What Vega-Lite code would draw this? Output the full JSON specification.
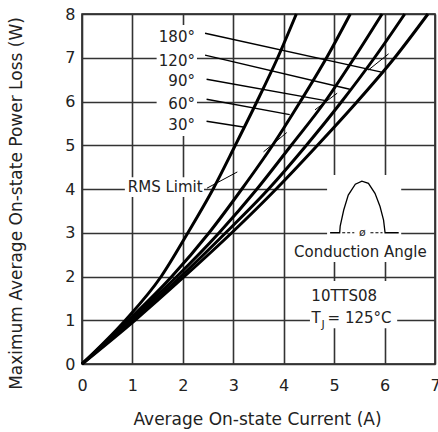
{
  "$schema": "https://vega.github.io/schema/vega-lite/v6.json",
  "width": 353,
  "height": 350,
  "autosize": {"type": "none"},
  "padding": {"left": 82, "top": 14, "right": 3, "bottom": 68},
  "background": "white",
  "config": {
    "font": "DejaVu Sans",
    "view": {"stroke": "#111", "strokeWidth": 1.5},
    "axis": {
      "grid": true, "gridColor": "#333", "gridWidth": 1.6, "gridOpacity": 1,
      "ticks": false, "domain": false,
      "labelFont": "DejaVu Sans", "labelFontSize": 16, "labelColor": "#222",
      "labelFlush": false, "labelOverlap": false,
      "titleFont": "DejaVu Sans", "titleFontSize": 17, "titleFontWeight": "normal", "titleColor": "#222"
    }
  },
  "datasets": {
    "curves": [
      {"angle": "30", "x": 0, "y": 0}, {"angle": "30", "x": 0.86, "y": 1}, {"angle": "30", "x": 1.57, "y": 2}, {"angle": "30", "x": 2.1, "y": 3}, {"angle": "30", "x": 2.6, "y": 4}, {"angle": "30", "x": 3.04, "y": 5}, {"angle": "30", "x": 3.47, "y": 6}, {"angle": "30", "x": 3.88, "y": 7}, {"angle": "30", "x": 4.25, "y": 8},
      {"angle": "60", "x": 0, "y": 0}, {"angle": "60", "x": 0.92, "y": 1}, {"angle": "60", "x": 1.78, "y": 2}, {"angle": "60", "x": 2.52, "y": 3}, {"angle": "60", "x": 3.17, "y": 4}, {"angle": "60", "x": 3.78, "y": 5}, {"angle": "60", "x": 4.33, "y": 6}, {"angle": "60", "x": 4.85, "y": 7}, {"angle": "60", "x": 5.32, "y": 8},
      {"angle": "90", "x": 0, "y": 0}, {"angle": "90", "x": 0.95, "y": 1}, {"angle": "90", "x": 1.88, "y": 2}, {"angle": "90", "x": 2.72, "y": 3}, {"angle": "90", "x": 3.47, "y": 4}, {"angle": "90", "x": 4.15, "y": 5}, {"angle": "90", "x": 4.82, "y": 6}, {"angle": "90", "x": 5.4, "y": 7}, {"angle": "90", "x": 5.95, "y": 8},
      {"angle": "120", "x": 0, "y": 0}, {"angle": "120", "x": 1.0, "y": 1}, {"angle": "120", "x": 1.96, "y": 2}, {"angle": "120", "x": 2.85, "y": 3}, {"angle": "120", "x": 3.7, "y": 4}, {"angle": "120", "x": 4.45, "y": 5}, {"angle": "120", "x": 5.15, "y": 6}, {"angle": "120", "x": 5.8, "y": 7}, {"angle": "120", "x": 6.4, "y": 8},
      {"angle": "180", "x": 0, "y": 0}, {"angle": "180", "x": 1.05, "y": 1}, {"angle": "180", "x": 2.03, "y": 2}, {"angle": "180", "x": 2.97, "y": 3}, {"angle": "180", "x": 3.85, "y": 4}, {"angle": "180", "x": 4.67, "y": 5}, {"angle": "180", "x": 5.46, "y": 6}, {"angle": "180", "x": 6.2, "y": 7}, {"angle": "180", "x": 6.86, "y": 8}
    ],
    "boxes": [
      {"x": 1.48, "x2": 2.28, "y": 5.21, "y2": 7.75},
      {"x": 0.85, "x2": 2.42, "y": 3.82, "y2": 4.27},
      {"x": 4.86, "x2": 6.33, "y": 2.33, "y2": 4.32},
      {"x": 4.05, "x2": 6.98, "y": 2.33, "y2": 2.83},
      {"x": 4.52, "x2": 6.25, "y": 0.82, "y2": 1.9}
    ],
    "rms": [
      {"x": 2.48, "y": 4.02, "x2": 3.08, "y2": 4.39},
      {"x": 3.6, "y": 4.85, "x2": 4.06, "y2": 5.29},
      {"x": 4.62, "y": 5.81, "x2": 5.06, "y2": 6.19},
      {"x": 5.68, "y": 6.72, "x2": 6.08, "y2": 7.09}
    ],
    "leaders": [
      {"x": 2.44, "y": 7.56, "x2": 5.94, "y2": 6.67},
      {"x": 2.44, "y": 7.06, "x2": 5.31, "y2": 6.28},
      {"x": 2.47, "y": 6.51, "x2": 4.83, "y2": 6.02},
      {"x": 2.47, "y": 6.05, "x2": 4.12, "y2": 5.7},
      {"x": 2.47, "y": 5.55, "x2": 3.23, "y2": 5.41}
    ],
    "wave": [
      {"i": 0, "x": 4.92, "y": 3.0}, {"i": 1, "x": 5.11, "y": 3.0}, {"i": 2, "x": 5.12, "y": 3.15}, {"i": 3, "x": 5.19, "y": 3.52}, {"i": 4, "x": 5.28, "y": 3.86}, {"i": 5, "x": 5.42, "y": 4.11}, {"i": 6, "x": 5.55, "y": 4.18}, {"i": 7, "x": 5.68, "y": 4.13}, {"i": 8, "x": 5.81, "y": 3.9}, {"i": 9, "x": 5.91, "y": 3.6}, {"i": 10, "x": 5.98, "y": 3.29}, {"i": 11, "x": 6.01, "y": 3.0}, {"i": 12, "x": 6.28, "y": 3.0}
    ],
    "dims": [
      {"x": 5.16, "y": 3.0, "x2": 5.4, "y2": 3.0},
      {"x": 5.72, "y": 3.0, "x2": 5.96, "y2": 3.0}
    ],
    "anglelabels": [
      {"x": 2.24, "y": 7.35, "t": "180°"},
      {"x": 2.24, "y": 6.82, "t": "120°"},
      {"x": 2.24, "y": 6.35, "t": "90°"},
      {"x": 2.24, "y": 5.84, "t": "60°"},
      {"x": 2.24, "y": 5.35, "t": "30°"}
    ],
    "centertexts": [
      {"x": 1.65, "y": 3.94, "t": "RMS Limit"},
      {"x": 5.52, "y": 2.45, "t": "Conduction Angle"},
      {"x": 5.2, "y": 1.45, "t": "10TTS08"},
      {"x": 4.64, "y": 0.94, "t": "T"}
    ],
    "lefttexts": [
      {"x": 4.87, "y": 0.94, "t": "= 125°C"}
    ],
    "smalltexts": [
      {"x": 4.78, "y": 0.82, "t": "J"},
      {"x": 5.56, "y": 2.92, "t": "ø"}
    ]
  },
  "encoding": {
    "x": {
      "field": "x", "type": "quantitative",
      "scale": {"domain": [0, 7], "nice": false},
      "axis": {"title": "Average On-state Current (A)", "values": [0, 1, 2, 3, 4, 5, 6, 7],
               "labelBaseline": "alphabetic", "labelPadding": 26.7,
               "titleBaseline": "alphabetic", "titleY": 60, "titleX": 175, "titleAlign": "center"}
    },
    "y": {
      "field": "y", "type": "quantitative",
      "scale": {"domain": [0, 8], "nice": false},
      "axis": {"title": "Maximum Average On-state Power Loss (W)", "values": [0, 1, 2, 3, 4, 5, 6, 7, 8],
               "labelPadding": 7,
               "titleBaseline": "alphabetic", "titleX": -61, "titleY": 189, "titleAlign": "center", "titleAngle": -90}
    }
  },
  "layer": [
    {"data": {"name": "boxes"}, "mark": {"type": "rect", "color": "white"},
     "encoding": {"x2": {"field": "x2"}, "y2": {"field": "y2"}}},
    {"data": {"name": "curves"}, "mark": {"type": "line", "interpolate": "monotone", "strokeWidth": 3, "color": "#000"},
     "encoding": {"detail": {"field": "angle"}}},
    {"data": {"name": "rms"}, "mark": {"type": "rule", "strokeWidth": 1, "color": "#000"},
     "encoding": {"x2": {"field": "x2"}, "y2": {"field": "y2"}}},
    {"data": {"name": "leaders"}, "mark": {"type": "rule", "strokeWidth": 1.4, "color": "#000"},
     "encoding": {"x2": {"field": "x2"}, "y2": {"field": "y2"}}},
    {"data": {"name": "dims"}, "mark": {"type": "rule", "strokeWidth": 1, "color": "#000", "strokeDash": [3, 2]},
     "encoding": {"x2": {"field": "x2"}, "y2": {"field": "y2"}}},
    {"data": {"name": "wave"}, "mark": {"type": "line", "strokeWidth": 1.3, "color": "#000"},
     "encoding": {"order": {"field": "i", "type": "quantitative"}}},
    {"data": {"name": "anglelabels"}, "mark": {"type": "text", "align": "right", "baseline": "alphabetic", "fontSize": 15, "color": "#222"},
     "encoding": {"text": {"field": "t"}}},
    {"data": {"name": "centertexts"}, "mark": {"type": "text", "align": "center", "baseline": "alphabetic", "fontSize": 15, "color": "#222"},
     "encoding": {"text": {"field": "t"}}},
    {"data": {"name": "lefttexts"}, "mark": {"type": "text", "align": "left", "baseline": "alphabetic", "fontSize": 15, "color": "#222"},
     "encoding": {"text": {"field": "t"}}},
    {"data": {"name": "smalltexts"}, "mark": {"type": "text", "align": "center", "baseline": "alphabetic", "fontSize": 11, "color": "#222"},
     "encoding": {"text": {"field": "t"}}}
  ]
}
